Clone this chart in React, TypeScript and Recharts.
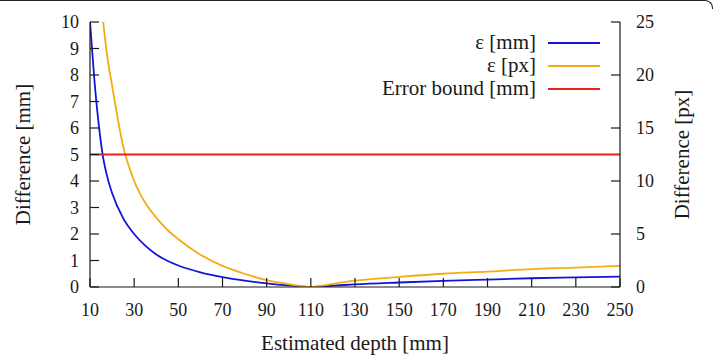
import React from 'react';
import { LineChart, Line, XAxis, YAxis, Legend } from 'recharts';

// estimated depth [mm]
const depths = [10, 12, 14, 16, 18, 20, 25, 30, 35, 40, 45, 50, 60, 70, 80, 90, 100, 110, 120, 130, 150, 170, 190, 210, 230, 250];
// difference in mm (left axis)
const epsMm = [10, 7.8, 6.1, 4.85, 4.1, 3.55, 2.6, 2.0, 1.56, 1.23, 0.99, 0.81, 0.55, 0.37, 0.24, 0.14, 0.06, 0, 0.05, 0.1, 0.17, 0.23, 0.28, 0.33, 0.36, 0.39];
// difference in px (right axis)
const epsPx = [50, 39, 30.5, 25, 21.5, 19, 13.3, 10, 7.95, 6.55, 5.4, 4.5, 3.05, 2.0, 1.25, 0.65, 0.28, 0, 0.3, 0.6, 0.95, 1.25, 1.45, 1.68, 1.83, 2.0];
const errorBound = 5;

const seriesNames = ['ε [mm]', 'ε [px]', 'Error bound [mm]'];

const xTicks = [10, 30, 50, 70, 90, 110, 130, 150, 170, 190, 210, 230, 250];
const mmTicks = [0, 1, 2, 3, 4, 5, 6, 7, 8, 9, 10];
const pxTicks = [0, 5, 10, 15, 20, 25];

const BLUE = '#1414d8';
const ORANGE = '#f2ad14';
const RED = '#e8231c';
const INK = '#1a1a1a';
const FONT = "'Times New Roman', 'Liberation Serif', Times, 'DejaVu Serif', serif";
const seriesColors = [BLUE, ORANGE, RED];

const data = depths.map((d, i) => ({
  depth: d,
  mm: epsMm[i],
  px: epsPx[i],
  bound: errorBound,
}));

const tickStyle = { fill: INK, fontSize: 18, fontFamily: FONT };
const lineStyle = { stroke: INK, strokeWidth: 1.2 };

const LeftTitle = ({ viewBox }: any) => {
  const x = viewBox.x + 30;
  const y = viewBox.y + viewBox.height / 2;
  return (
    <text x={x} y={y} transform={`rotate(-90, ${x}, ${y})`} textAnchor="middle"
      fill={INK} fontSize={21} style={{ fontFamily: FONT }}>
      Difference [mm]
    </text>
  );
};

const RightTitle = ({ viewBox }: any) => {
  const x = viewBox.x + 69;
  const y = viewBox.y + viewBox.height / 2;
  return (
    <text x={x} y={y} transform={`rotate(-90, ${x}, ${y})`} textAnchor="middle"
      fill={INK} fontSize={21} style={{ fontFamily: FONT }}>
      Difference [px]
    </text>
  );
};

const BottomTitle = ({ viewBox }: any) => (
  <text x={viewBox.x + viewBox.width / 2} y={viewBox.y + 63} textAnchor="middle"
    fill={INK} fontSize={21} style={{ fontFamily: FONT }}>
    Estimated depth [mm]
  </text>
);

// key drawn in series order: label first, line sample on the right
const KeyBox = () => (
  <div style={{ fontFamily: FONT, fontSize: 21, color: INK }}>
    {seriesNames.map((name, i) => (
      <div key={name} style={{ display: 'flex', justifyContent: 'flex-end', alignItems: 'center', height: 23 }}>
        <span style={{ lineHeight: '23px' }}>{name}</span>
        <span style={{ display: 'inline-block', width: 52, height: 0, borderTop: `2px solid ${seriesColors[i]}`, marginLeft: 12 }} />
      </div>
    ))}
  </div>
);

export default function App() {
  return (
    <div style={{ position: 'absolute', left: 0, top: 0, width: 714, height: 358, background: '#fff', fontFamily: FONT }}>
      <div style={{
        position: 'absolute', left: 0, top: 0, width: 712, height: 8,
        borderTop: '1.5px solid #222', borderRight: '1.5px solid #222', borderTopRightRadius: 8,
      }} />
      <LineChart width={714} height={358} data={data} margin={{ top: 22, right: 0, bottom: 0, left: 0 }}>
        <XAxis dataKey="depth" type="number" domain={[10, 250]} ticks={xTicks} allowDataOverflow
          height={71} tickSize={-9} tickMargin={25} tick={tickStyle}
          axisLine={lineStyle} tickLine={lineStyle} label={<BottomTitle />} />
        <XAxis xAxisId="top" orientation="top" dataKey="depth" type="number" domain={[10, 250]}
          ticks={xTicks} allowDataOverflow height={0} tickSize={-9} tick={false}
          axisLine={lineStyle} tickLine={lineStyle} />
        <YAxis yAxisId="mm" domain={[0, 10]} ticks={mmTicks} allowDataOverflow width={90}
          tickSize={-9} tickMargin={20} tick={tickStyle}
          axisLine={lineStyle} tickLine={lineStyle} label={<LeftTitle />} />
        <YAxis yAxisId="px" orientation="right" domain={[0, 25]} ticks={pxTicks} allowDataOverflow width={94}
          tickSize={-9} tickMargin={25} tick={tickStyle}
          axisLine={lineStyle} tickLine={lineStyle} label={<RightTitle />} />
        <Legend layout="vertical" align="center" verticalAlign="middle" content={<KeyBox />}
          wrapperStyle={{ left: 300, top: 31, width: 300, height: 69 }} />
        <Line yAxisId="mm" dataKey="mm" name={seriesNames[0]} type="monotone" stroke={BLUE} strokeWidth={1.8}
          dot={false} activeDot={false} isAnimationActive={false} />
        <Line yAxisId="px" dataKey="px" name={seriesNames[1]} type="monotone" stroke={ORANGE} strokeWidth={1.8}
          dot={false} activeDot={false} isAnimationActive={false} />
        <Line yAxisId="mm" dataKey="bound" name={seriesNames[2]} type="linear" stroke={RED} strokeWidth={1.8}
          dot={false} activeDot={false} isAnimationActive={false} />
      </LineChart>
    </div>
  );
}
